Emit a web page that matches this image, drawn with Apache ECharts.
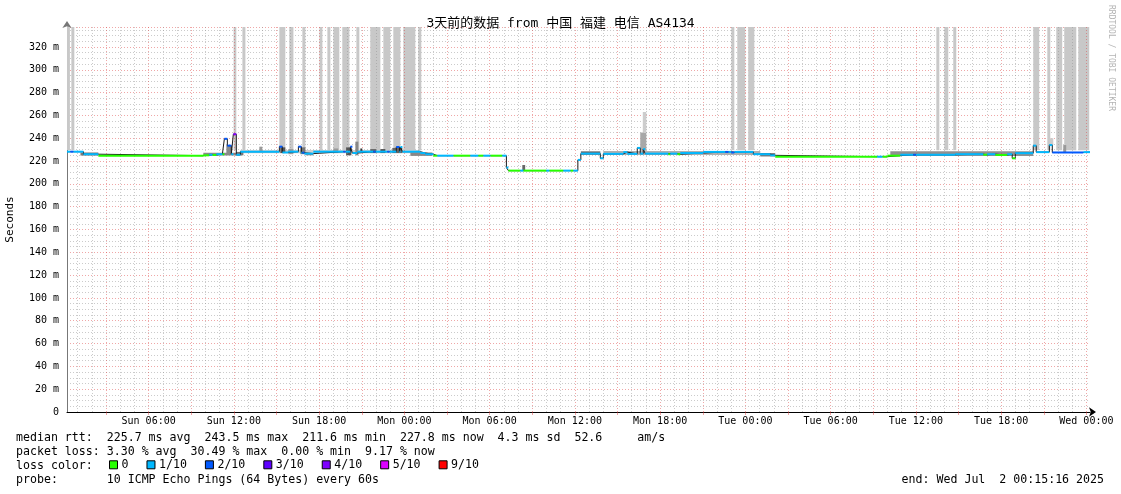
<!DOCTYPE html>
<html><head><meta charset="utf-8">
<script src="https://cdn.jsdelivr.net/npm/echarts@6/dist/echarts.min.js"></script>
<style>html,body{margin:0;padding:0;background:#fff}#c{width:1121px;height:494px}</style>
</head><body><div id="c"></div><script>
const FONT = "'DejaVu Sans Mono','Noto Sans CJK SC',monospace";
// time in hours since Sun 00:00
const T_START = 0.25444;   // Sun 00:15:16
const T_END = 72.25444;    // Wed 00:15:16
const Y_MAX = 337.5;       // ms

const xTickHours = [6,12,18,24,30,36,42,48,54,60,66,72];
const xTickLabels = ['Sun 06:00','Sun 12:00','Sun 18:00','Mon 00:00','Mon 06:00','Mon 12:00','Mon 18:00','Tue 00:00','Tue 06:00','Tue 12:00','Tue 18:00','Wed 00:00'];
const yTickValues = [0,20,40,60,80,100,120,140,160,180,200,220,240,260,280,300,320];
const yTickLabels = ['0','20 m','40 m','60 m','80 m','100 m','120 m','140 m','160 m','180 m','200 m','220 m','240 m','260 m','280 m','300 m','320 m'];

const lossNames = ['0','1/10','2/10','3/10','4/10','5/10','9/10'];
const lossColors = ['#26ff00','#00b8ff','#0059ff','#5e00ff','#7e00ff','#dd00ff','#ff0000'];

// median rtt (ms), step segments: start hour, value, loss level index
const medStart = [0.254,0.49,0.70,1.41,2.46,9.85,10.27,10.49,10.77,11.19,11.33,11.54,11.82,11.96,12.17,12.46,15.20,15.41,15.83,16.54,16.75,16.82,16.96,17.59,19.70,19.85,20.20,20.34,20.69,21.82,21.96,22.80,22.94,23.43,23.65,23.72,23.86,25.12,25.48,26.04,26.32,27.45,28.64,29.20,29.56,30.05,30.89,31.18,31.32,32.16,32.37,33.99,34.20,35.19,35.68,35.89,36.21,36.42,37.79,38.00,39.41,39.69,40.39,40.60,40.81,40.95,42.57,42.71,43.21,43.42,45.04,46.59,46.80,47.01,47.22,48.56,49.75,50.10,57.28,57.64,57.99,58.90,59.82,60.00,62.77,64.74,65.02,65.59,66.43,66.78,67.00,68.26,68.47,69.39,69.60,71.78];
const medValue = [228.2,228.2,228.2,226.0,224.7,225.0,225.5,225.3,226.0,226.0,239.5,233.5,226.0,243.5,225.5,228.2,232.6,227.5,228.2,232.6,227.3,227.3,226.5,228.2,228.2,228.2,232.6,227.0,228.2,228.2,228.2,228.2,228.2,232.3,228.2,232.3,228.2,227.0,226.0,224.7,224.7,224.7,224.7,224.7,224.7,224.7,224.7,214.3,211.6,211.6,211.6,211.6,211.6,211.6,211.6,211.6,221.0,226.5,222.4,226.3,227.8,226.3,231.5,226.5,230.5,226.5,226.0,226.5,226.0,227.0,228.0,228.0,228.0,227.5,228.0,226.0,225.0,223.8,223.8,223.8,224.7,225.5,225.5,225.5,226.0,225.5,226.0,225.3,226.0,222.4,226.9,233.5,227.8,234.0,227.5,227.8];
const medLoss = [1,2,1,1,0,0,1,0,1,0,2,2,1,4,1,1,2,1,1,2,1,2,1,1,2,1,2,1,1,2,1,2,1,2,1,1,1,1,1,0,1,0,1,0,1,0,1,1,0,1,0,1,0,1,0,1,1,1,1,1,1,1,1,1,1,1,0,1,0,1,1,2,1,2,1,1,1,0,1,0,0,1,2,1,1,0,1,0,1,0,1,1,1,1,2,1];

// tall smoke columns (hours) reaching the top of the graph
const lossBarStart = [0.254,0.56,11.98,12.60,15.20,15.90,16.82,18.02,18.58,19.00,19.63,20.62,21.60,22.52,23.22,23.93,24.98,47.01,47.43,48.20,61.44,62.00,62.63,68.26,69.25,69.88,70.44,71.43];
const lossBarEnd   = [0.46,0.77,12.17,12.81,15.62,16.19,17.03,18.23,18.79,19.42,20.13,20.83,22.31,23.01,23.72,24.77,25.19,47.22,47.99,48.63,61.65,62.28,62.84,68.68,69.46,70.30,71.29,72.20];
const lossBarBottom = 229.5;

// smoke (ping spread) blocks
const smokeStart = [12.46,38.00,58.20,1.20,9.85,11.47,12.17,13.79,15.27,15.83,16.68,17.03,19.00,19.90,20.55,20.90,21.60,22.31,23.15,24.42,32.30,36.42,49.05,40.60,40.78,69.39,70.37];
const smokeEnd   = [25.12,49.05,68.26,2.46,12.46,11.82,12.67,14.00,15.62,16.19,17.03,17.59,19.35,20.27,20.76,21.04,22.03,22.66,23.86,25.97,32.50,37.79,50.10,41.03,41.03,69.67,70.58];
const smokeLo    = [226.8,225.2,224.5,224.8,224.8,226.0,225.0,228.0,227.0,226.0,226.0,225.0,227.0,225.0,225.0,228.0,227.0,227.0,227.0,224.5,212.0,225.5,224.0,229.0,245.0,234.0,227.0];
const smokeHi    = [229.6,228.8,228.5,227.5,227.3,234.0,228.0,232.6,232.0,230.5,232.0,227.0,231.0,232.0,237.0,231.0,230.5,230.5,231.5,227.5,216.5,228.5,227.0,245.0,263.0,240.0,234.0];
const smokeShade = ['#d0d0d0','#b0b0b0','#909090','#7a7a7a','#8a8a8a','#8a8a8a','#777777','#9a9a9a','#555555','#9a9a9a','#777777','#8a8a8a','#9a9a9a','#555555','#888888','#333333','#666666','#555555','#666666','#888888','#666666','#6a6a6a','#777777','#a8a8a8','#cdcdcd','#cccccc','#999999'];

const titleText = '3天前的数据 from 中国 福建 电信 AS4134';
const legendLines = [
  'median rtt:  225.7 ms avg  243.5 ms max  211.6 ms min  227.8 ms now  4.3 ms sd  52.6     am/s',
  'packet loss: 3.30 % avg  30.49 % max  0.00 % min  9.17 % now',
  'loss color:',
  'probe:       10 ICMP Echo Pings (64 Bytes) every 60s'
];
const endText = 'end: Wed Jul  2 00:15:16 2025';

// ---- build ----
const segByLoss = lossNames.map(() => []);
for (let i = 0; i < medStart.length; i++) {
  const e = i + 1 < medStart.length ? medStart[i + 1] : T_END;
  segByLoss[medLoss[i]].push([medStart[i], e, medValue[i]]);
}
const stepData = medStart.map((t, i) => [t, medValue[i]]);
stepData.push([T_END, medValue[medValue.length - 1]]);

const MAJ = 'rgba(220,60,60,0.45)';
const MIN = 'rgba(140,140,140,0.45)';
const vLines = [];
for (let h = 1; h <= 72; h++) {
  vLines.push({xAxis: h, lineStyle: {color: h % 3 === 0 ? MAJ : MIN, type: [1, 2], width: 1}});
}
const x3hTicks = [];
for (let h = 3; h <= 72; h += 3) x3hTicks.push(h);

function rectItem(api, x0, x1, y0, y1, fill) {
  const a = api.coord([x0, y1]);
  const b = api.coord([x1, y0]);
  return {type: 'rect', shape: {x: a[0], y: a[1], width: Math.max(b[0] - a[0], 1), height: Math.max(b[1] - a[1], 0.5)}, style: {fill: fill}};
}

const series = [
  {name: '__grid', type: 'line', data: [[T_START, 0]], symbol: 'none', lineStyle: {opacity: 0}, silent: true, z: 1,
   markLine: {silent: true, symbol: ['none', 'none'], label: {show: false}, animation: false, data: vLines}},
  {name: '__bars', type: 'custom', z: 2, clip: true,
   data: lossBarStart.map((s, i) => [s, lossBarEnd[i], lossBarBottom, Y_MAX]),
   encode: {x: [0, 1], y: [2, 3]},
   renderItem: (p, api) => rectItem(api, api.value(0), api.value(1), api.value(2), api.value(3), '#c8c8c8')},
  {name: '__smoke', type: 'custom', z: 3, clip: true,
   data: smokeStart.map((s, i) => [s, smokeEnd[i], smokeLo[i], smokeHi[i], i]),
   encode: {x: [0, 1], y: [2, 3]},
   renderItem: (p, api) => rectItem(api, api.value(0), api.value(1), api.value(2), api.value(3), smokeShade[api.value(4)])},
  {name: '__median', type: 'line', step: 'end', data: stepData, symbol: 'none', z: 4,
   lineStyle: {color: '#1a1a1a', width: 1}, silent: true}
];
lossNames.forEach((n, k) => {
  series.push({
    name: n, type: 'custom', z: 5, clip: true, color: lossColors[k], itemStyle: {color: lossColors[k]},
    data: segByLoss[k], encode: {x: [0, 1], y: [2]},
    renderItem: (p, api) => {
      const a = api.coord([api.value(0), api.value(2)]);
      const b = api.coord([api.value(1), api.value(2)]);
      return {type: 'rect', shape: {x: a[0], y: a[1] - 1, width: b[0] - a[0], height: 2}, style: {fill: lossColors[k]}};
    }
  });
});

const chart = echarts.init(document.getElementById('c'), null, {renderer: 'canvas'});
chart.setOption({
  animation: false,
  backgroundColor: '#ffffff',
  title: {text: titleText, left: 'center', top: 12,
    textStyle: {fontFamily: FONT, fontSize: 13, fontWeight: 'normal', color: '#000'}},
  grid: {left: 67, right: 31, top: 27, bottom: 82, containLabel: false, outerBoundsMode: 'none'},
  xAxis: {
    type: 'value', min: T_START, max: T_END,
    axisLine: {show: true, lineStyle: {color: '#000', width: 1}, symbol: ['none', 'arrow'], symbolSize: [7, 7], symbolOffset: [0, 6]},
    axisTick: {show: true, customValues: x3hTicks, length: 3, inside: false, lineStyle: {color: MAJ}},
    axisLabel: {customValues: xTickHours, margin: 4, fontFamily: FONT, fontSize: 10, color: '#000',
      formatter: v => { const i = xTickHours.indexOf(Math.round(v)); return i >= 0 ? xTickLabels[i] : ''; }},
    splitLine: {show: false}
  },
  yAxis: {
    type: 'value', min: 0, max: Y_MAX, interval: 5,
    name: 'Seconds', nameLocation: 'middle', nameRotate: 90, nameGap: 51,
    nameTextStyle: {fontFamily: FONT, fontSize: 11, color: '#000'},
    axisLine: {show: true, lineStyle: {color: '#777', width: 1}, symbol: ['none', 'arrow'], symbolSize: [7, 7], symbolOffset: [0, 6]},
    axisTick: {show: false},
    axisLabel: {customValues: yTickValues, margin: 8, fontFamily: FONT, fontSize: 10, color: '#000',
      formatter: v => { const i = yTickValues.indexOf(Math.round(v)); return i >= 0 ? yTickLabels[i] : ''; }},
    splitLine: {show: true, lineStyle: {color: [MAJ, MIN, MIN, MIN], type: [1, 2], width: 1}}
  },
  legend: {
    data: lossNames, left: 109, top: 459, padding: 0, icon: 'rect', itemWidth: 8, itemHeight: 8, itemGap: 18,
    selectedMode: false, itemStyle: {borderColor: '#000', borderWidth: 1},
    textStyle: {fontFamily: FONT, fontSize: 11.6, color: '#000', padding: [0, 0, 0, -1]}
  },
  graphic: [
    ...legendLines.map((t, i) => ({type: 'text', x: 16, y: 438 + i * 14, silent: true,
      style: {text: t, fontFamily: FONT, fontSize: 11.6, fill: '#000', textAlign: 'left', textVerticalAlign: 'middle', align: 'left', verticalAlign: 'middle'}})),
    {type: 'text', x: 1104, y: 480, silent: true,
      style: {text: endText, fontFamily: FONT, fontSize: 11.6, fill: '#000', textAlign: 'right', textVerticalAlign: 'middle', align: 'right', verticalAlign: 'middle'}},
    {type: 'text', x: 1111, y: 5, rotation: -Math.PI / 2, silent: true,
      style: {text: 'RRDTOOL / TOBI OETIKER', fontFamily: FONT, fontSize: 8, fill: '#b4b4b4', textAlign: 'left', textVerticalAlign: 'middle', align: 'left', verticalAlign: 'middle'}}
  ],
  series: series
});
</script></body></html>
